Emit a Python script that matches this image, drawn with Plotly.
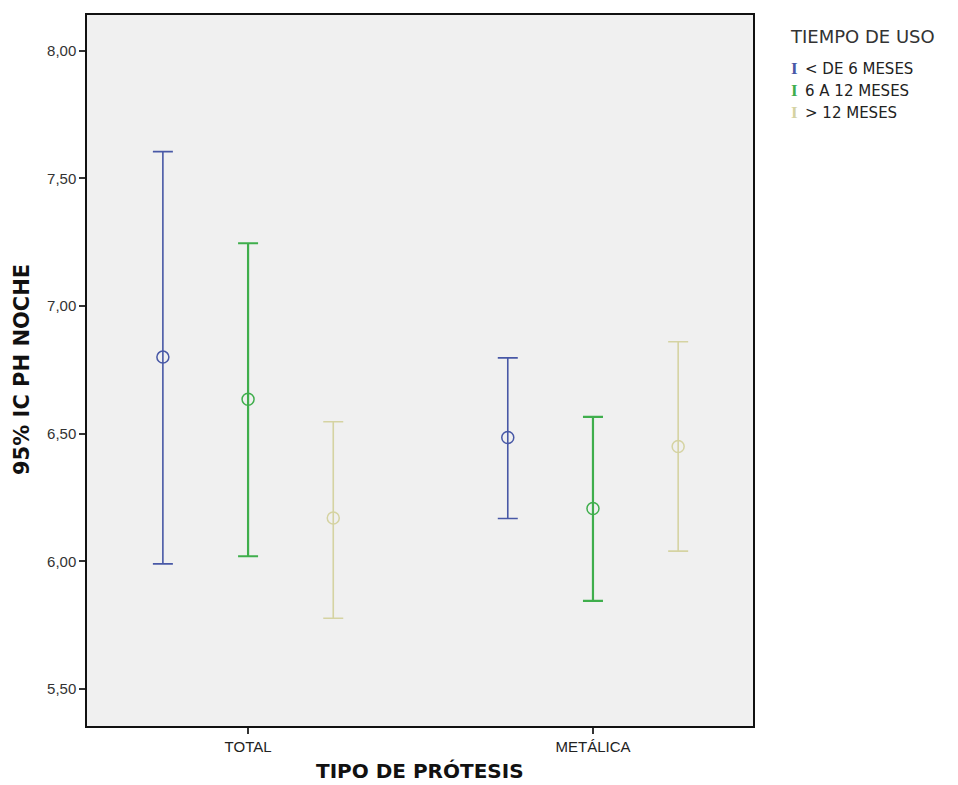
import plotly.graph_objects as go

categories = ["TOTAL", "METÁLICA"]
groups = ["< DE 6 MESES", "6 A 12 MESES", "> 12 MESES"]
means = {
    "< DE 6 MESES": [6.80, 6.485],
    "6 A 12 MESES": [6.635, 6.207],
    "> 12 MESES": [6.17, 6.45],
}
lowers = {
    "< DE 6 MESES": [5.99, 6.168],
    "6 A 12 MESES": [6.02, 5.845],
    "> 12 MESES": [5.777, 6.04],
}
uppers = {
    "< DE 6 MESES": [7.605, 6.797],
    "6 A 12 MESES": [7.246, 6.566],
    "> 12 MESES": [6.547, 6.86],
}
ytick_vals = [5.5, 6.0, 6.5, 7.0, 7.5, 8.0]
ytick_text = ["5,50", "6,00", "6,50", "7,00", "7,50", "8,00"]

colors = {"< DE 6 MESES": "#4858a6", "6 A 12 MESES": "#3fae4c", "> 12 MESES": "#d5d3a2"}
widths = {"< DE 6 MESES": 1.6, "6 A 12 MESES": 2.2, "> 12 MESES": 1.6}
offsets = {"< DE 6 MESES": -0.247, "6 A 12 MESES": 0.0, "> 12 MESES": 0.247}

fig = go.Figure()
for g in groups:
    xs = [i + offsets[g] for i in range(len(categories))]
    fig.add_trace(go.Scatter(
        x=xs, y=means[g], mode="markers", name=g, showlegend=False,
        marker=dict(symbol="circle-open", size=12, color=colors[g],
                    line=dict(width=1.5, color=colors[g])),
        error_y=dict(type="data", symmetric=False,
                     array=[u - m for u, m in zip(uppers[g], means[g])],
                     arrayminus=[m - l for m, l in zip(means[g], lowers[g])],
                     color=colors[g], thickness=widths[g], width=10),
    ))

PW, PH = 666, 713
fig.update_layout(
    width=950, height=777,
    margin=dict(l=79, r=205, t=5, b=59),
    paper_bgcolor="white", plot_bgcolor="#f0f0f0",
    font=dict(family="Liberation Sans, Arial, sans-serif", color="#222"),
    xaxis=dict(range=[-0.467, 1.464], tickvals=[0, 1], ticktext=categories,
               showgrid=False, zeroline=False, showline=True, linecolor="#111",
               linewidth=1.5, mirror=True, ticks="outside", ticklen=6,
               tickcolor="#333", tickwidth=1.5, tickfont=dict(size=15, color="#222")),
    yaxis=dict(range=[5.355, 8.14], tickvals=ytick_vals, ticktext=ytick_text,
               showgrid=False, zeroline=False, showline=True, linecolor="#111",
               linewidth=1.5, mirror=True, ticks="outside", ticklen=6,
               tickcolor="#333", tickwidth=1.5, tickfont=dict(size=15, color="#333")),
)

fig.add_annotation(text="<b>95% IC PH NOCHE</b>", xref="paper", yref="paper",
                   x=-65 / PW, y=1 - (369 - 13) / PH, textangle=-90, showarrow=False,
                   xanchor="center", yanchor="middle",
                   font=dict(size=21, color="#111", family="DejaVu Sans, sans-serif"))
fig.add_annotation(text="<b>TIPO DE PRÓTESIS</b>", xref="paper", yref="paper",
                   x=0.5, y=-45 / PH, showarrow=False, xanchor="center", yanchor="middle",
                   font=dict(size=20, color="#111", family="DejaVu Sans, sans-serif"))

# legend
fig.add_annotation(text="TIEMPO DE USO", xref="paper", yref="paper",
                   x=1.0 + (788 - 753) / PW, y=1 - (35 - 13) / PH, showarrow=False,
                   xanchor="left", yanchor="middle",
                   font=dict(size=18, color="#333", family="DejaVu Sans, sans-serif"))
leg_y = [67, 89, 111]
for g, yy in zip(groups, leg_y):
    fig.add_annotation(text="<b>I</b>", xref="paper", yref="paper",
                       x=1.0 + (789 - 753) / PW, y=1 - (yy - 13) / PH, showarrow=False,
                       xanchor="left", yanchor="middle",
                       font=dict(size=17, color=colors[g], family="Liberation Serif, serif"))
    fig.add_annotation(text=g, xref="paper", yref="paper",
                       x=1.0 + (803 - 753) / PW, y=1 - (yy - 13) / PH, showarrow=False,
                       xanchor="left", yanchor="middle",
                       font=dict(size=15, color="#222", family="DejaVu Sans, sans-serif"))

fig.write_html("out.html")
